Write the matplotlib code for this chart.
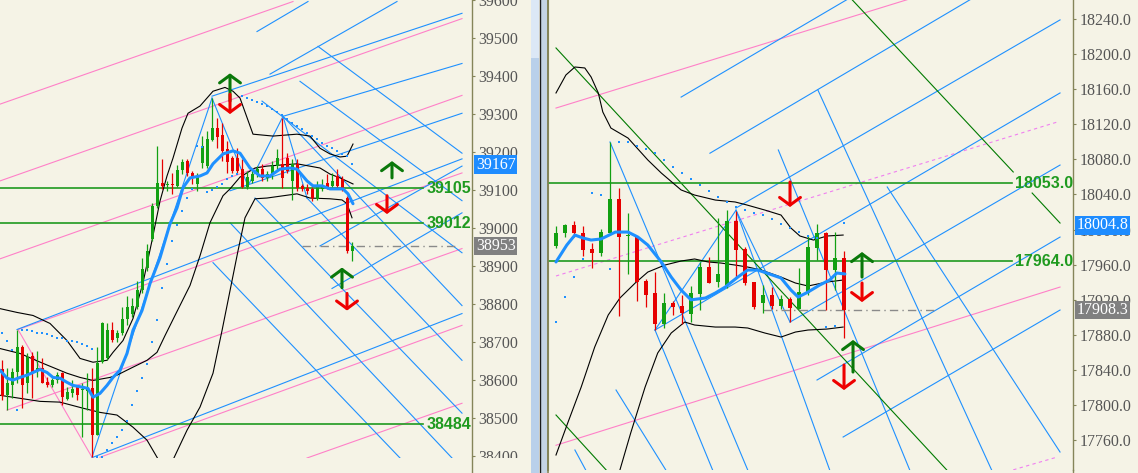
import numpy as np
import matplotlib
matplotlib.use("Agg")
import matplotlib.pyplot as plt
from matplotlib.patches import Rectangle
from matplotlib.lines import Line2D

W, H = 1138, 473
BG = "#f5f3e6"
OLIVE = "#85855a"
BLUE = "#1e90ff"
PINK = "#ff80c8"
PINK_DASH = "#f080f0"
UP_C = "#12a012"
DN_C = "#e60000"
LEVEL_C = "#1f9a1f"
ARROW_UP = "#0a780a"
ARROW_DN = "#ee0000"

# ---------------- left chart (index, H1-ish) ----------------
open_l = [38628, 38560, 38587, 38621, 38686, 38592, 38663, 38626, 38631, 38594,
          38587, 38600, 38618, 38550, 38566, 38581, 38573, 38571, 38579, 38455,
          38647, 38657, 38733, 38710, 38723, 38762, 38775, 38791, 38836, 38896,
          38972, 39059, 39119, 39114, 39116, 39111, 39153, 39177, 39145, 39116,
          39171, 39163, 39232, 39263, 39245, 39208, 39184, 39184, 39156, 39108,
          39124, 39142, 39156, 39132, 39142, 39163, 39169, 39184, 39124, 39169,
          39111, 39106, 39103, 39077, 39103, 39119, 39111, 39137, 39129, 39080, 38940]
high_l = [38652, 38631, 38631, 38733, 38691, 38670, 38673, 38676, 38657, 38608,
          38605, 38621, 38621, 38581, 38600, 38587, 38592, 38618, 38631, 38686,
          38752, 38749, 38752, 38731, 38791, 38822, 38817, 38862, 38920, 38959,
          39066, 39216, 39182, 39124, 39145, 39166, 39182, 39182, 39150, 39145,
          39242, 39255, 39342, 39289, 39276, 39229, 39190, 39211, 39182, 39150,
          39156, 39163, 39169, 39150, 39177, 39208, 39289, 39198, 39182, 39182,
          39116, 39116, 39108, 39124, 39129, 39142, 39145, 39156, 39137, 39085, 38962]
low_l = [38547, 38521, 38552, 38592, 38526, 38566, 38552, 38608, 38592, 38581,
         38581, 38592, 38534, 38547, 38555, 38547, 38450, 38521, 38398, 38455,
         38644, 38652, 38699, 38699, 38718, 38744, 38765, 38788, 38830, 38888,
         38967, 39053, 39103, 39098, 39090, 39108, 39142, 39137, 39116, 39098,
         39158, 39158, 39229, 39211, 39177, 39145, 39145, 39145, 39106, 39103,
         39119, 39134, 39124, 39124, 39129, 39156, 39106, 39145, 39074, 39098,
         39098, 39090, 39072, 39074, 39098, 39103, 39106, 39106, 39098, 38935, 38914]
close_l = [38558, 38592, 38621, 38686, 38587, 38660, 38621, 38631, 38592, 38587,
           38600, 38613, 38555, 38568, 38576, 38560, 38576, 38579, 38455, 38644,
           38749, 38733, 38705, 38723, 38762, 38791, 38796, 38836, 38893, 38940,
           39059, 39119, 39111, 39116, 39114, 39153, 39174, 39145, 39137, 39137,
           39216, 39234, 39263, 39240, 39203, 39174, 39150, 39150, 39108, 39134,
           39142, 39156, 39132, 39142, 39163, 39184, 39132, 39150, 39169, 39106,
           39103, 39098, 39080, 39111, 39114, 39106, 39124, 39111, 39106, 38940, 38953]

ma_l_x = [-0.4, 1, 2.2, 3.6, 5, 6.2, 7.6, 9, 10.2, 11.6, 13, 14.2, 16.2, 17.2, 18.2, 19.6,
          21, 22.2, 23.6, 25, 26.2, 28, 29.6, 31.6, 33.6, 35, 36.2, 37.6, 39.6, 41, 42.2,
          44.2, 46.2, 47.6, 49.6, 51.6, 53.6, 55.6, 57.6, 59, 61, 62.2, 64, 65.6, 68.2, 69.2, 70.2]
ma_l = [38626, 38605, 38600, 38607, 38613, 38620, 38628, 38620, 38607, 38605,
        38594, 38586, 38581, 38578, 38555, 38565, 38586, 38607, 38626, 38670,
        38731, 38783, 38854, 38922, 39011, 39053, 39106, 39132, 39137, 39145,
        39169, 39195, 39203, 39197, 39158, 39137, 39137, 39155, 39158, 39155,
        39124, 39111, 39111, 39103, 39103, 39090, 39064]

bb_up_l_x = [-0.4, 3, 6.2, 9.6, 13, 15.6, 18.2, 21, 22.2, 24.2, 26.2, 28.2, 30, 31.6, 33, 34.2,
             36, 37.2, 39.6, 42.2, 44.6, 46.2, 47.6, 50.2, 54.2, 59, 61.6, 63.6, 65.6, 67.6, 69, 70.2]
bb_up_l = [38788, 38778, 38770, 38749, 38704, 38657, 38647, 38652, 38673, 38704,
           38762, 38856, 38967, 39071, 39137, 39184, 39263, 39302, 39321, 39360,
           39370, 39360, 39342, 39247, 39242, 39247, 39242, 39210, 39195, 39187, 39189, 39221]
bb_mid_l_x = [-0.4, 3.6, 8.2, 13, 15.6, 18.2, 21.6, 23, 26.2, 29, 31, 32.6, 34.6, 37.6, 39.6,
              41.6, 44.2, 45.6, 47.6, 50.6, 53, 59, 63.6, 65.6, 67.6, 70.2]
bb_mid_l = [38683, 38670, 38644, 38618, 38607, 38599, 38607, 38613, 38634, 38652,
            38673, 38717, 38770, 38849, 38927, 39014, 39085, 39103, 39134, 39158,
            39163, 39169, 39158, 39142, 39132, 39116]
bb_lo_l_x = [-0.4, 3.6, 7.6, 11.6, 16.2, 19.6, 23, 26.2, 29, 31, 32.2, 33.2, 34.2, 37,
             39.6, 42.2, 44, 45.6, 47.2, 48.6, 50.6, 53, 59, 61.6, 65.6, 68, 69, 70]
bb_lo_l = [38560, 38552, 38544, 38542, 38526, 38515, 38508, 38476, 38442, 38397,
           38369, 38363, 38390, 38468, 38529, 38618, 38730, 38835, 38940, 39027,
           39077, 39079, 39090, 39079, 39077, 39074, 39064, 39027]

sar_l = [38725, 38702, 38678, 38521, 38733, 38731, 38728, 38725, 38725, 38720,
         38717, 38712, 38710, 38704, 38702, 38699, 38694, 38689, 38683, 38397,
         38397, 38416, 38434, 38450, 38468, 38492, 38534, 38571, 38605, 38641,
         38699, 38757, 38843, 38906, 38967, 39009, 39045, 39079, 39103, 39216,
         39213, 39095, 39100, 39108, 39116, 39129, 39137, 39142, 39347, 39342,
         39336, 39331, 39326, 39321, 39313, 39305, 39297, 39287, 39276, 39268,
         39260, 39250, 39242, 39234, 39224, 39216, 39211, 39203, 39195, 39190, 39169]

# trend lines: (bar0, price0, bar1, price1)
blue_lines_l = [
    (42, 39347, 92, 39565), (51, 39517, 61.2, 39596), (53.6, 39405, 79, 39596),
    (56.2, 39294, 92, 39433), (45.6, 39098, 92, 39302), (3, 38733, 92, 39182),
    (63.6, 38953, 92, 39163), (66, 38841, 92, 39040), (18.2, 38397, 92, 38775),
    (63.2, 39478, 92, 39197), (59.6, 39386, 92, 39072), (52, 39334, 92, 38935),
    (56.2, 39294, 92, 38796), (61, 39079, 92, 38652), (50.6, 39079, 92, 38513),
    (42.2, 38909, 79.6, 38395), (45.6, 39014, 90, 38395),
    (18, 38397, 42, 39342), (42, 39342, 49.2, 39111), (49.2, 39111, 56.2, 39294),
    (56.2, 39294, 61, 39079),
]
pink_lines_l = [
    (-0.4, 39326, 58.2, 39596), (-0.4, 39124, 92, 39551), (-0.4, 38919, 92, 39349),
    (1, 38521, 92, 38946), (3.2, 38733, 92, 39145), (19.6, 38397, 92, 38744),
    (61, 38395, 92, 38539), (3.2, 38733, 18, 38397),
]
levels_l = [39105, 39012, 38484]
level_end_l = 84.2
last_l = 38953
dash_l = (60, 91)
marker_l = 39167
arrows_l = [(45.6, 39334, 39407, "up"), (45.6, 39352, 39300, "down"),
            (78, 39132, 39176, "up"), (77, 39085, 39037, "down"),
            (68, 38843, 38896, "up"), (69, 38828, 38783, "down")]

# ---------------- right chart ----------------
open_r = [17981, 17996, 18005, 17996, 17978, 17973, 17996, 18035, 17993, 17993,
          17941, 17928, 17892, 17916, 17913, 17904, 17926, 17957, 17940, 17937,
          18010, 17978, 17940, 17916, 17925, 17913, 17921, 17909, 17928, 17979,
          17996, 17954, 17968]
high_r = [18004, 18006, 18010, 18004, 17985, 18001, 18100, 18047, 18019, 17993,
          17944, 17952, 17928, 17919, 17925, 17936, 17963, 17969, 18013, 18022,
          18021, 17980, 17940, 17937, 17934, 17925, 17923, 17956, 17994, 18006,
          17997, 17997, 17976]
low_r = [17979, 17991, 17991, 17970, 17956, 17970, 17994, 17901, 17949, 17918,
         17912, 17885, 17888, 17902, 17892, 17894, 17908, 17939, 17934, 17933,
         17945, 17937, 17909, 17905, 17909, 17909, 17895, 17909, 17925, 17965,
         17908, 17931, 17876]
close_r = [17996, 18005, 17996, 17977, 17973, 17997, 18035, 17991, 17994, 17940,
           17925, 17892, 17916, 17912, 17905, 17928, 17957, 17939, 17949, 18010,
           17977, 17939, 17912, 17925, 17913, 17921, 17911, 17929, 17980, 17996,
           17954, 17968, 17908.3]

ma_r_x = [0, 1.2, 2.1, 3, 3.9, 5, 6.6, 8, 9.1, 10.2, 11.7, 12.8, 13.9, 15, 16.6, 17.7,
          18.8, 20.2, 21.3, 22.4, 23.4, 25, 26.1, 26.9, 28, 29.3, 30.4, 31.2, 32.1]
ma_r = [17963, 17982.3, 17993.7, 17990.3, 17988, 17989.2, 17997.1, 17997.1, 17991.4,
        17982.3, 17963, 17945.8, 17931, 17919.8, 17921.9, 17927.6, 17934.4, 17945.8,
        17953.8, 17953.8, 17950.4, 17944.7, 17931, 17923, 17928.7, 17936.7, 17942.4,
        17950.4, 17949.3]
bb_up_r_x = [0, 1.1, 2.1, 3.2, 3.9, 4.7, 5.2, 6.1, 8, 8.9, 10.2, 11.7, 13.9, 15.4, 17.7,
             19.9, 21.2, 23.2, 25, 26.1, 27.1, 28.6, 30.1, 31.9]
bb_up_r = [18155.7, 18176.2, 18185.3, 18184.2, 18173.9, 18155.7, 18134, 18115.7,
           18104.3, 18094.1, 18079.3, 18064.4, 18045.1, 18039.3, 18033.6, 18031.4,
           18028, 18022.2, 18016.5, 18001.7, 17992.6, 17988, 17992.6, 17993.7]
bb_mid_r_x = [0, 1.3, 2.8, 4.3, 5.8, 7.1, 8.8, 10.2, 12.1, 13.9, 15.4, 16.9, 18.3, 19.9,
              21.3, 22.8, 25, 26.6, 28, 30.1, 31.9]
bb_mid_r = [17742.9, 17779.3, 17820.4, 17866, 17902.5, 17921.9, 17939, 17951.5,
            17959.5, 17964.1, 17966.4, 17963, 17961.8, 17959.5, 17957.2, 17953.8,
            17945.8, 17939, 17935.6, 17940.1, 17942.4]
bb_lo_r_x = [6.4, 7.1, 8.3, 9.9, 11.3, 12.8, 14.3, 15.4, 17.7, 19.9, 21.3, 23.2, 25,
             26.6, 28, 30.1, 31.9]
bb_lo_r = [17708.7, 17725.8, 17768, 17820.4, 17859.2, 17882, 17894.5, 17891.1,
           17888.8, 17888.8, 17887.7, 17882, 17877.4, 17883.1, 17885.4, 17886.5, 17888.8]
sar_r = [17894.5, 17923, 17945.8, 17966.4, 18041.6, 18039.3, 17955, 18099.8, 18099.8,
         18095.2, 18091.8, 18087.2, 18079.3, 18071.3, 18064.4, 18057.6, 18050.7,
         18043.9, 18037, 18031.4, 18025.7, 18022.2, 18018.8, 18016.5, 18012, 18006.3,
         18001.7, 17997.1, 17992.6, 17990.3, 17888.8, 17890, 18007.4]

blue_lines_r = [
    (13.9, 18151, 32.3, 18262), (17.1, 18087, 46, 18262), (20, 18024.5, 56, 18239),
    (11, 17885.4, 56, 18155.7), (26, 17894.5, 56, 18073.5), (29, 17828.4, 56, 17991.4),
    (31.9, 17763.4, 56, 17908.2),
    (6, 18099.8, 21.3, 17725.8), (11, 17885.4, 17.4, 17725.8), (6.67, 17817, 12.2, 17725.8),
    (2.1, 17748.6, 3.3, 17725.8), (24.7, 18090.7, 39.3, 17725.8), (29.1, 18159, 48.4, 17725.8),
    (36.8, 18048.5, 56, 17746.3), (20, 18022, 30.4, 17726),
    (20, 18022, 26, 17894.5), (11, 17885.4, 20, 18022),
]
green_lines_r = [(0, 18207, 43.4, 17726), (32.9, 18262, 50.8, 18065.6),
                 (52.9, 18041.6, 56, 18007.4), (0, 17788.5, 5.56, 17726)]
pink_lines_r = [(0, 18138.5, 39, 18262), (0, 17754, 56, 17934.4)]
pink_dash_r = [(0, 17947, 55.7, 18122.6), (50.8, 17726, 55.7, 17740.6)]
levels_r = [18053.0, 17964.0]
level_end_r = 50.7
last_r = 17908.3
dash_r = (23, 42.1)
marker_r = 18004.8
arrows_r = [(26, 18054.2, 18025.7, "down"), (34, 17945.8, 17974.3, "up"),
            (34, 17939, 17917.3, "down"), (33, 17837.5, 17874, "up"),
            (32, 17845.5, 17817, "down")]


def draw_candles(ax, o, h, l, c, width, min_body):
    o, h, l, c = map(np.asarray, (o, h, l, c))
    x = np.arange(len(o))
    col = np.where(c >= o, UP_C, DN_C)
    ax.vlines(x, l, h, colors=col, lw=0.9, zorder=4)
    ax.bar(x, np.maximum(np.abs(c - o), min_body), width=width,
           bottom=np.minimum(o, c), color=col, lw=0, zorder=5)


def draw_lines(ax, segs, color, lw=0.8, ls="-"):
    for x0, p0, x1, p1 in segs:
        ax.plot([x0, x1], [p0, p1], color=color, lw=lw, ls=ls, zorder=2)


def draw_arrows(ax, arrows):
    for x, tail, head, kind in arrows:
        col = ARROW_UP if kind == "up" else ARROW_DN
        ax.annotate("", xy=(x, head), xytext=(x, tail), zorder=7,
                    arrowprops=dict(arrowstyle="->,head_length=0.55,head_width=0.75",
                                    color=col, lw=2.2, shrinkA=0, shrinkB=0,
                                    mutation_scale=10))


def setup(ax, xlim, ylim, ticks, fmt):
    ax.set_facecolor(BG)
    ax.set_xlim(*xlim)
    ax.set_ylim(*ylim)
    ax.set_xticks([])
    ax.yaxis.tick_right()
    ax.set_yticks(ticks)
    ax.set_yticklabels([fmt.format(t) for t in ticks])
    ax.tick_params(axis="y", direction="out", length=2.5, width=0.8, color=OLIVE,
                   labelcolor="#555555", labelsize=11.5, pad=2,
                   labelfontfamily="Liberation Serif")
    for side in ("top", "bottom", "left"):
        ax.spines[side].set_visible(False)
    ax.spines["right"].set_color(OLIVE)
    ax.spines["right"].set_linewidth(1.0)


def price_box(ax, y, text, fc, x=1.008):
    ax.text(x, y, text, transform=ax.get_yaxis_transform(), ha="left", va="center",
            color="white", fontsize=11.5, family="Liberation Serif", zorder=9,
            clip_on=False, bbox=dict(boxstyle="square,pad=0.08", fc=fc, ec="none"))


fig = plt.figure(figsize=(W / 100, H / 100), dpi=100, facecolor=BG)

# ---- left panel ----
axL = fig.add_axes([0, 15 / H, 472 / W, 458 / H])
setup(axL, (-0.4, 94), (38395, 39596.2), np.arange(38400, 39601, 100), "{:.0f}")
draw_lines(axL, pink_lines_l, PINK)
draw_lines(axL, blue_lines_l, BLUE)
for lv in levels_l:
    axL.plot([-0.4, level_end_l], [lv, lv], color=LEVEL_C, lw=1.2, zorder=3)
    axL.text(level_end_l + 0.8, lv, f"{lv:.0f}", ha="left", va="center", color=LEVEL_C,
             fontsize=11.5, fontweight="bold", family="Liberation Sans", zorder=8)
axL.plot(dash_l, [last_l, last_l], color="#8a8a8a", lw=1.0, ls=(0, (6, 3, 1, 3)), zorder=3)
axL.plot(bb_up_l_x, bb_up_l, color="black", lw=0.8, zorder=3)
axL.plot(bb_mid_l_x, bb_mid_l, color="black", lw=0.8, zorder=3)
axL.plot(bb_lo_l_x, bb_lo_l, color="black", lw=0.8, zorder=3)
draw_candles(axL, open_l, high_l, low_l, close_l, 0.6, 2.6)
axL.plot(ma_l_x, ma_l, color=BLUE, lw=2.2, zorder=6, solid_capstyle="round")
axL.plot(np.arange(len(sar_l)), sar_l, "s", color=BLUE, ms=2.0, mew=0, zorder=6)
draw_arrows(axL, arrows_l)
price_box(axL, marker_l, f"{marker_l:.0f}", "#1e8cff")
price_box(axL, last_l, f"{last_l:.0f}", "#808080")

# ---- right panel ----
axR = fig.add_axes([548 / W, 3 / H, 525 / W, 470 / H])
setup(axR, (-0.889, 57.44), (17725.8, 18261.7), np.arange(17760, 18241, 40), "{:.1f}")
axR.spines["left"].set_visible(True)
axR.spines["left"].set_color(OLIVE)
axR.spines["left"].set_linewidth(1.5)
draw_lines(axR, pink_lines_r, PINK)
draw_lines(axR, pink_dash_r, PINK_DASH, ls=(0, (3, 3)))
draw_lines(axR, blue_lines_r, BLUE)
draw_lines(axR, green_lines_r, "#007a00")
for lv in levels_r:
    axR.plot([-0.889, level_end_r], [lv, lv], color=LEVEL_C, lw=1.2, zorder=3)
    axR.text(level_end_r + 0.3, lv, f"{lv:.1f}", ha="left", va="center", color=LEVEL_C,
             fontsize=11.5, fontweight="bold", family="Liberation Sans", zorder=8)
axR.plot(dash_r, [last_r, last_r], color="#8a8a8a", lw=1.0, ls=(0, (6, 3, 1, 3)), zorder=3)
axR.plot(bb_up_r_x, bb_up_r, color="black", lw=0.8, zorder=3)
axR.plot(bb_mid_r_x, bb_mid_r, color="black", lw=0.8, zorder=3)
axR.plot(bb_lo_r_x, bb_lo_r, color="black", lw=0.8, zorder=3)
draw_candles(axR, open_r, high_r, low_r, close_r, 0.55, 1.2)
axR.plot(ma_r_x, ma_r, color=BLUE, lw=2.2, zorder=6, solid_capstyle="round")
axR.plot(np.arange(len(sar_r)), sar_r, "s", color=BLUE, ms=2.0, mew=0, zorder=6)
draw_arrows(axR, arrows_r)
price_box(axR, marker_r, f"{marker_r:.1f}", "#1e8cff", x=1.007)
price_box(axR, last_r, f"{last_r:.1f}", "#808080", x=1.007)

# ---- window chrome between / below the panels ----
tf = fig.transFigure
fig.add_artist(Rectangle((0, 0), 531 / W, 15 / H, transform=tf, fc=BG, ec="none", zorder=10))
fig.add_artist(Line2D([472 / W] * 2, [0, 15 / H], transform=tf, color=OLIVE, lw=1, zorder=11))
fig.add_artist(Line2D([1073 / W] * 2, [0, 3 / H], transform=tf, color=OLIVE, lw=1, zorder=11))
fig.add_artist(Rectangle((531 / W, 0), 8 / W, 1, transform=tf, fc="#b9d0ea", ec="none", zorder=10))
fig.add_artist(Rectangle((531 / W, 1 - 58 / H), 8 / W, 58 / H, transform=tf, fc="#dce8f6",
                         ec="none", zorder=10))
fig.add_artist(Line2D([539.5 / W] * 2, [0, 1], transform=tf, color="#1a1a1a", lw=1, zorder=11))
fig.add_artist(Rectangle((540 / W, 0), 7 / W, 1, transform=tf, fc="#c5d4e4", ec="none", zorder=10))
fig.add_artist(Line2D([547.8 / W] * 2, [0, 1], transform=tf, color=OLIVE, lw=1.2, zorder=11))

fig.savefig("out.png", dpi=100, facecolor=BG)
